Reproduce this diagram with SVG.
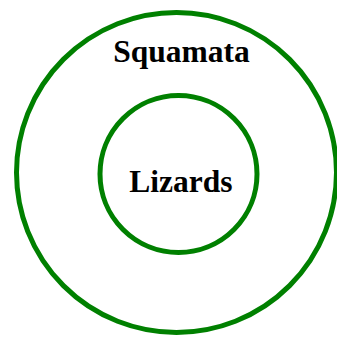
<svg xmlns="http://www.w3.org/2000/svg" width="337" height="337" viewBox="0 0 337 337">
<style>
.set{fill:none;stroke:#008000;stroke-width:5}
.lbl{font-family:"Liberation Serif","Times New Roman",serif;font-weight:bold;font-size:31.5px;fill:#000;text-anchor:middle}
</style>
<rect width="337" height="337" fill="#fff"/>
<g id="squamata">
<circle class="set" cx="176.5" cy="172.5" r="160"/>
<text class="lbl" x="181.5" y="62">Squamata</text>
</g>
<g id="lizards">
<circle class="set" cx="178.5" cy="174" r="78.5"/>
<text class="lbl" x="181" y="192">Lizards</text>
</g>
<g id="connectors"/>
</svg>
